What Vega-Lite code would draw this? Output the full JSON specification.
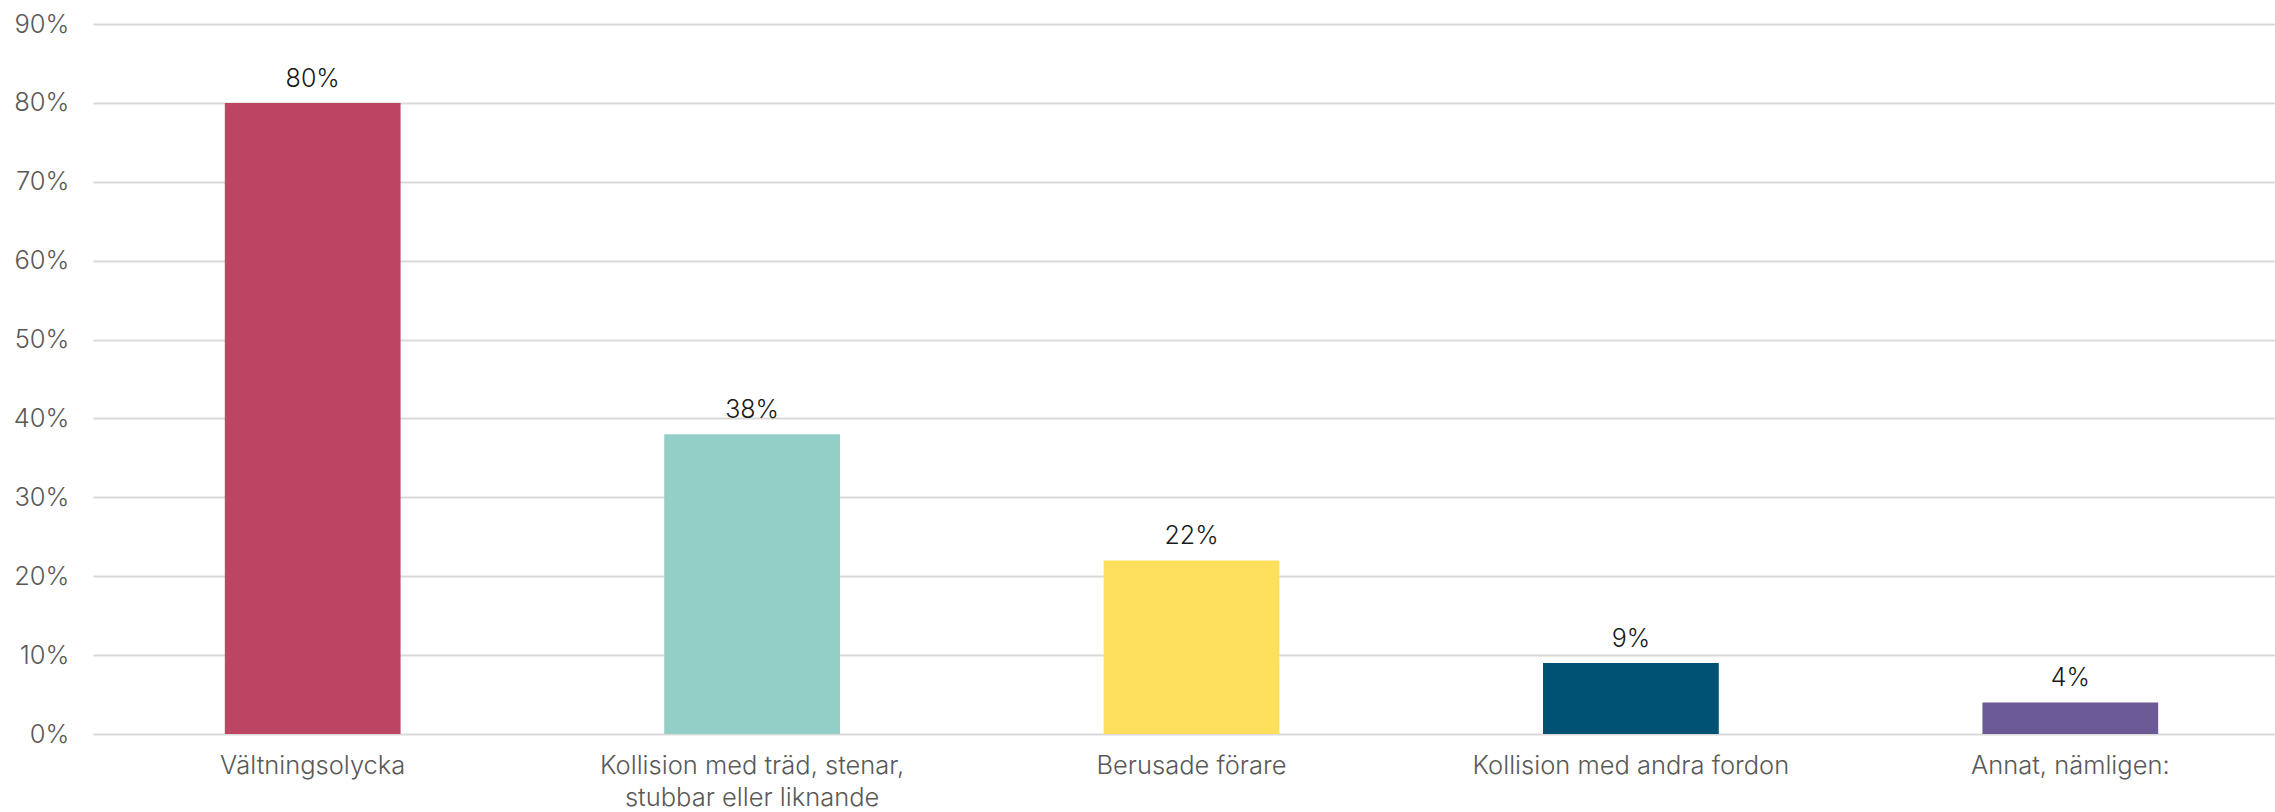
{
  "$schema": "https://vega.github.io/schema/vega-lite/v6.json",
  "autosize": {"type": "none"},
  "padding": {"left": 93, "top": 24, "right": 0, "bottom": 78},
  "width": 2197,
  "height": 710,
  "background": "white",
  "config": {"view": {"stroke": null}, "font": "Inter"},
  "data": {
    "values": [
      {"kategori": "Vältningsolycka", "andel": 0.80, "farg": "#BB4562"},
      {"kategori": "Kollision med träd, stenar, stubbar eller liknande", "andel": 0.38, "farg": "#93CFC7"},
      {"kategori": "Berusade förare", "andel": 0.22, "farg": "#FEDF5E"},
      {"kategori": "Kollision med andra fordon", "andel": 0.09, "farg": "#005275"},
      {"kategori": "Annat, nämligen:", "andel": 0.04, "farg": "#6C5A96"}
    ]
  },
  "encoding": {
    "x": {
      "field": "kategori",
      "type": "nominal",
      "sort": null,
      "scale": {"paddingInner": 0.6, "paddingOuter": 0.3},
      "axis": {
        "title": null,
        "domain": false,
        "ticks": false,
        "labelAngle": 0,
        "labelFont": "Inter",
        "labelFontSize": 25.5,
        "labelFontWeight": 300,
        "labelColor": "#595959",
        "labelPadding": 19,
        "labelLineHeight": 32,
        "labelLimit": 0,
        "labelExpr": "datum.label == 'Kollision med träd, stenar, stubbar eller liknande' ? ['Kollision med träd, stenar,', 'stubbar eller liknande'] : datum.label"
      }
    },
    "y": {
      "field": "andel",
      "type": "quantitative",
      "scale": {"domain": [0, 0.9], "nice": false},
      "axis": {
        "title": null,
        "domain": false,
        "ticks": false,
        "values": [0, 0.1, 0.2, 0.3, 0.4, 0.5, 0.6, 0.7, 0.8, 0.9],
        "format": ".0%",
        "labelFont": "Inter",
        "labelFontSize": 25.5,
        "labelFontWeight": 300,
        "labelColor": "#595959",
        "labelPadding": 24,
        "gridColor": "#D9D9D9",
        "gridWidth": 2
      }
    }
  },
  "layer": [
    {
      "mark": {"type": "bar"},
      "encoding": {
        "color": {"field": "farg", "type": "nominal", "scale": null, "legend": null}
      }
    },
    {
      "mark": {"type": "text", "baseline": "alphabetic", "dy": -16, "fontSize": 25, "fontWeight": 300, "font": "Inter", "color": "#1a1a1a"},
      "encoding": {
        "text": {"field": "andel", "type": "quantitative", "format": ".0%"}
      }
    }
  ]
}
